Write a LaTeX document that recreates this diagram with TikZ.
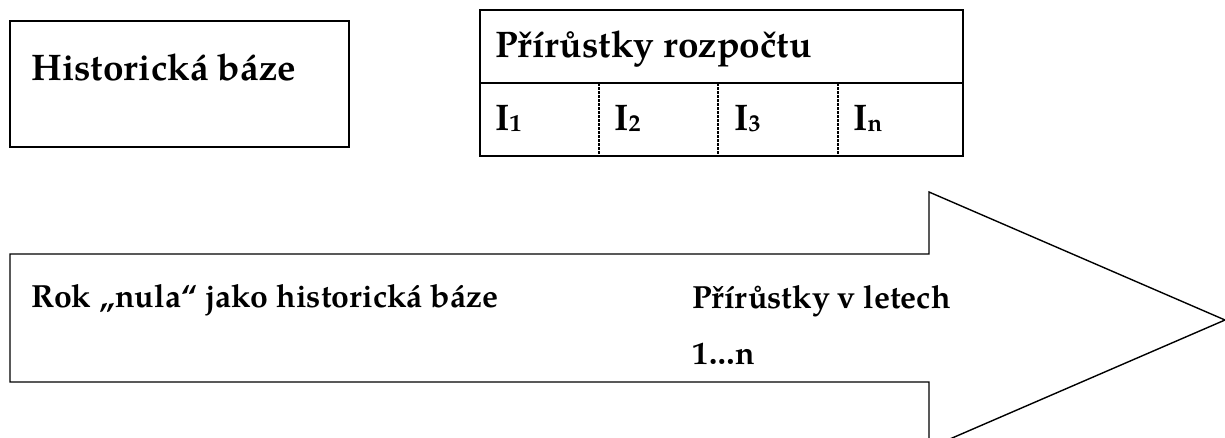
\documentclass[tikz,border=0pt]{standalone}
\usepackage{fontspec}
\setmainfont{texgyrepagella}[Extension=.otf, UprightFont=*-regular, BoldFont=*-bold]
\begin{document}
\begin{tikzpicture}[x=1pt,y=-1pt,
  big/.style={font=\fontsize{37}{44}\selectfont\bfseries, inner sep=0pt, anchor=base west},
  small/.style={font=\fontsize{32}{38}\selectfont\bfseries, inner sep=0pt, anchor=base west},
  frame/.style={draw=black, line width=1.5pt},
  tframe/.style={draw=black, line width=2pt},
  divider/.style={draw=black, line width=1.6pt, dash pattern=on 3pt off 1pt}]
\useasboundingbox (0,0) rectangle (1225,437);
% box Historicka baze
\draw[frame] (10,21) rectangle (349,147);
\node[big] (hb) at (31,80) {Historická báze};
% table
\draw[tframe] (480,10) rectangle (963,156);
\draw[tframe] (480,83) -- (963,83);
\draw[divider] (599,83) -- (599,156);
\draw[divider] (718,83) -- (718,156);
\draw[divider] (838,83) -- (838,156);
\node[big] (pr) at (495,57) {Přírůstky rozpočtu};
\newcommand{\sbx}[1]{\raisebox{-1.5pt}{\fontsize{24}{28}\selectfont #1}}
\node[big] (i1) at (495,130) {I\sbx{1}};
\node[big] (i2) at (614,130) {I\sbx{2}};
\node[big] (i3) at (734,130) {I\sbx{3}};
\node[big] (in) at (853,130) {I\sbx{n}};
% arrow
\draw[frame, line width=1.4pt, line join=miter] (10,254) -- (929,254) -- (929,192) -- (1225,320) -- (929,448) -- (929,382) -- (10,382) -- cycle;
\node[small] (rok) at (31,307) {Rok „nula“ jako historická báze};
\node[small] (pv) at (692,308) {Přírůstky v letech};
\node[small] (n) at (692,364) {1…n};
\end{tikzpicture}
\end{document}
